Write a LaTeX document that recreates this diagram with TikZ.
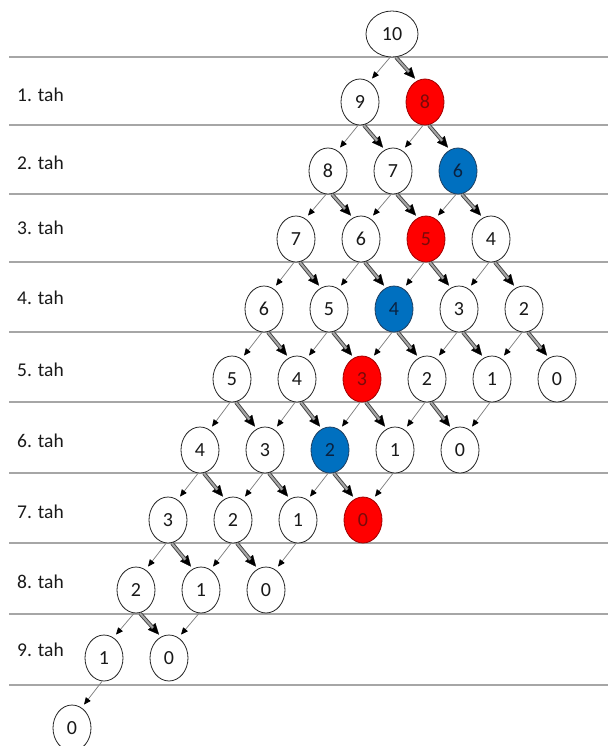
\documentclass[tikz,border=0pt]{standalone}
\usepackage{fontspec}
\setmainfont{Carlito}
\usetikzlibrary{arrows.meta,shapes.geometric,calc}
\definecolor{rulegray}{HTML}{A6A6A6}
\definecolor{thingray}{HTML}{808080}
\definecolor{hotred}{HTML}{FF0000}
\definecolor{redrim}{HTML}{A00000}
\definecolor{redtext}{HTML}{7A0A0A}
\definecolor{coolblue}{HTML}{0070C0}
\definecolor{bluerim}{HTML}{1F3F60}
\definecolor{bluetext}{HTML}{0A2240}
\tikzset{
  state/.style={ellipse, draw=black!85, line width=0.8pt, fill=white,
    minimum width=38pt, minimum height=46pt, inner sep=0pt,
    font=\fontsize{20}{20}\selectfont, text=black!90},
  redstate/.style={state, fill=hotred, draw=redrim, text=redtext},
  bluestate/.style={state, fill=coolblue, draw=bluerim, text=bluetext},
  takeone/.style={draw=thingray, line width=0.75pt,
    -{Triangle[length=7pt,width=6pt,color=black]}},
  tiptwo/.style={draw=black, line width=0.2pt, -{Triangle[length=11pt,width=10pt]}},
  shafttwo/.style={draw=black!75, line width=0.9pt, double=black!35,
    double distance=2pt, shorten >=9pt},
  rowrule/.style={draw=rulegray, line width=1.2pt},
  rowlabel/.style={anchor=west, inner sep=0pt,
    font=\fontsize{19.5}{19.5}\selectfont, text=black!90}
}
\begin{document}
\begin{tikzpicture}[x=1pt,y=-1pt]
\useasboundingbox (0,0) rectangle (608,746);

% horizontal rules separating the moves
\foreach \yy in {57,125,194,262,332,402,473,543,614,685}
  \draw[rowrule] (9,\yy) -- (608,\yy);

% move labels
\foreach \yy [count=\i] in {95,163,228,298,370,441,512,582,650}
  \node[rowlabel] (lab\i) at (17,\yy) {\i. tah};

% root
\node[state, minimum width=52pt] (n0-0) at (392,34) {10};

% game states: row r, m = number of double takes so far
\foreach \yy [count=\r] in {102,171,239,309,379,450,520,590,658,728} {
  \pgfmathtruncatemacro{\mmax}{min(\r,10-\r)}
  \foreach \m in {0,...,\mmax} {
    \pgfmathtruncatemacro{\v}{10-\r-\m}
    \def\kind{state}
    \ifnum\m=2
      \ifnum\r>1 \ifnum\r<7
        \ifodd\r \def\kind{redstate}\else\def\kind{bluestate}\fi
      \fi\fi
    \fi
    \ifnum\r=1 \ifnum\m=1 \def\kind{redstate}\fi\fi
    \ifnum\r=7 \ifnum\m=3 \def\kind{redstate}\fi\fi
    \node[\kind] (n\r-\m) at ({392-32*\r+65*\m},\yy) {\v};
  }
}

% moves: take one (thin) and take two (double)
\foreach \r in {0,...,9} {
  \pgfmathtruncatemacro{\mmax}{min(\r,10-\r)}
  \foreach \m in {0,...,\mmax} {
    \pgfmathtruncatemacro{\v}{10-\r-\m}
    \pgfmathtruncatemacro{\rr}{\r+1}
    \pgfmathtruncatemacro{\mm}{\m+1}
    \ifnum\v>0
      \draw[takeone] ($(n\r-\m.south)+(-2,0)$) -- ($(n\rr-\m.north)+(12,0)$);
    \fi
    \ifnum\v>1
      \draw[tiptwo] ($(n\r-\m.south)+(4,0)$) -- ($(n\rr-\mm.north)+(-10,0)$);
      \draw[shafttwo] ($(n\r-\m.south)+(4,0)$) -- ($(n\rr-\mm.north)+(-10,0)$);
    \fi
  }
}
\end{tikzpicture}
\end{document}
